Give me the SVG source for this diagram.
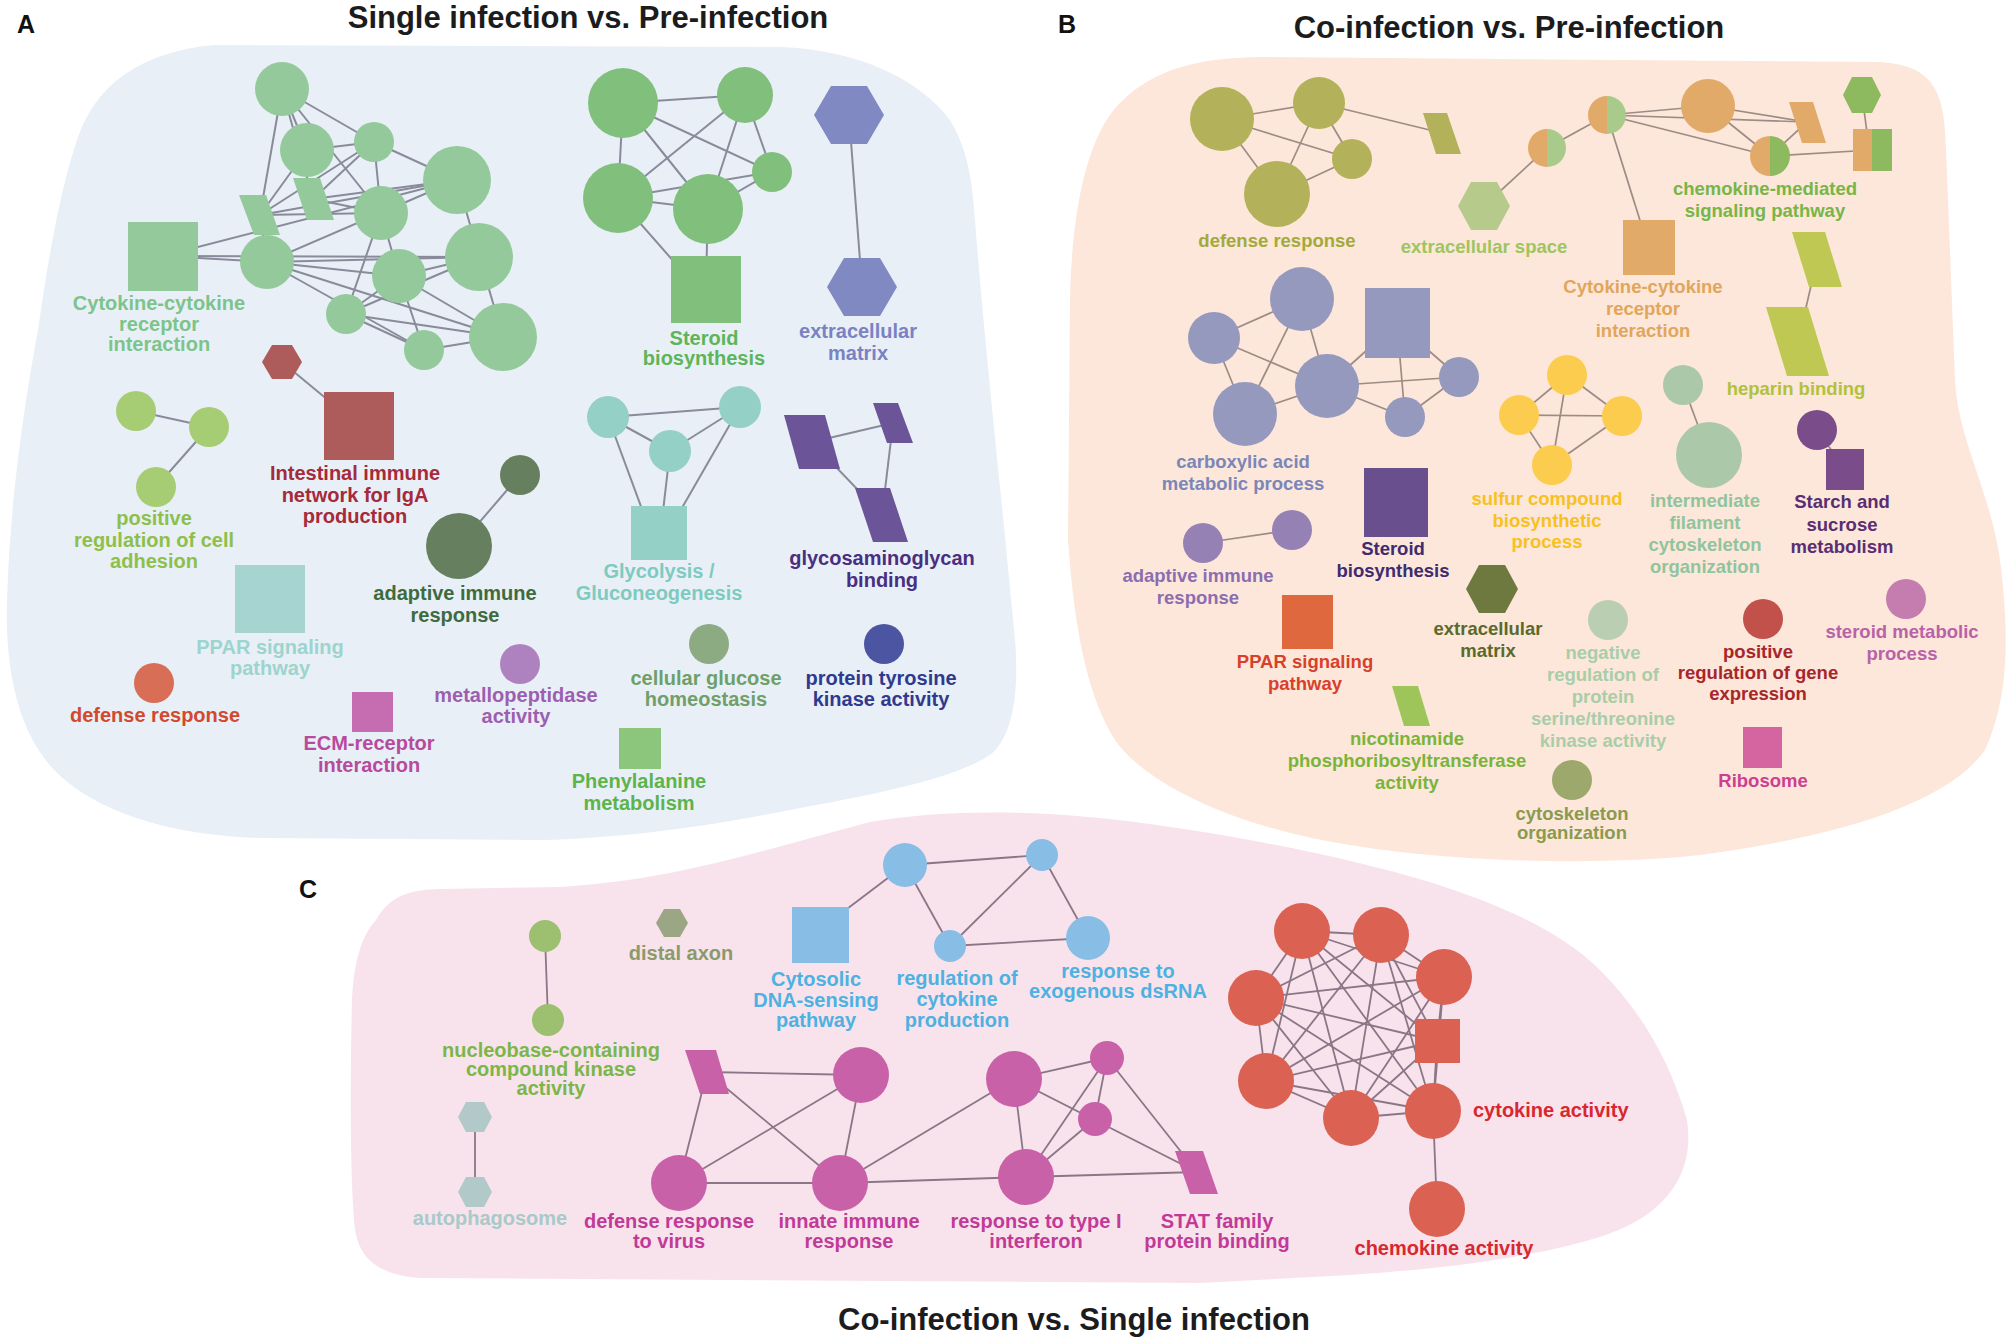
<svg xmlns="http://www.w3.org/2000/svg" width="2008" height="1337" viewBox="0 0 2008 1337">
<style>
text{font-family:"Liberation Sans",Arial,Helvetica,sans-serif;font-weight:bold;text-anchor:middle}
.title{font-size:31px;fill:#1c1c1c}
.plab{font-size:25px;fill:#111;text-anchor:start}
.lA,.lC{font-size:20px}
.lB{font-size:18.5px}
.eA line{stroke:#898b9a;stroke-width:2}
.eB line{stroke:#9d8c85;stroke-width:1.7}
.eC line{stroke:#8a7686;stroke-width:1.8}
.bgA{fill:#e9eff7}.bgB{fill:#fce7da}.bgC{fill:#f8e3ec}
.fA1{fill:#93c99b}.tA1{fill:#7cc48a}
.fA2{fill:#ae5b5b}.tA2{fill:#a52a3a}
.fA3{fill:#a6cd74}.tA3{fill:#8dc04a}
.fA4{fill:#657f5f}.tA4{fill:#3e6b3e}
.fA5{fill:#a6d4d1}.tA5{fill:#9cd4ce}
.fA6{fill:#d76e55}.tA6{fill:#d2492e}
.fA7{fill:#c66db1}.tA7{fill:#b84a9e}
.fA8{fill:#ae82bf}.tA8{fill:#9c5fb0}
.fA9{fill:#80bf7c}.tA9{fill:#5db55a}
.fA10{fill:#8189c3}.tA10{fill:#7a82c2}
.fA11{fill:#94d0c6}.tA11{fill:#7dcbc0}
.fA12{fill:#6c5499}.tA12{fill:#4a2e80}
.fA13{fill:#8dab83}.tA13{fill:#6fa068}
.fA14{fill:#4b55a1}.tA14{fill:#2f3a8f}
.fA15{fill:#8cc67c}.tA15{fill:#5db44a}
.fB1{fill:#b3b159}.tB1{fill:#a2aa3a}
.fB2{fill:#b6ca8c}.tB2{fill:#9dc560}
.fB3{fill:#e2aa68}.tB3{fill:#e1a65a}
.fB4{fill:#a8cb8b}
.fB5{fill:#8dba5e}.tB5{fill:#78b547}
.fB6{fill:#bec852}.tB6{fill:#b0c23a}
.fB7{fill:#9599be}.tB7{fill:#7b86b8}
.fB8{fill:#fccc4f}.tB8{fill:#f6c121}
.fB9{fill:#abc9a9}.tB9{fill:#90c49c}
.fB10{fill:#7a4c8a}.tB10{fill:#5a2e72}
.fB11{fill:#9681b5}.tB11{fill:#8b6db0}
.fB12{fill:#6a4f8e}.tB12{fill:#3f2b6f}
.fB13{fill:#e0683f}.tB13{fill:#d8402a}
.fB14{fill:#6d793e}.tB14{fill:#5b6a2b}
.fB15{fill:#9dc55a}.tB15{fill:#7ab43a}
.fB16{fill:#bacfb1}.tB16{fill:#a9cda9}
.fB17{fill:#9ca86c}.tB17{fill:#8a9a4e}
.fB18{fill:#c1514a}.tB18{fill:#a8262a}
.fB19{fill:#c57caf}.tB19{fill:#b962a8}
.fB20{fill:#d565a0}.tB20{fill:#cd4090}
.fC1{fill:#9cbf70}.tC1{fill:#7bb649}
.fC2{fill:#9ba684}.tC2{fill:#8a9a6a}
.fC3{fill:#88bee6}.tC3{fill:#4db1e1}
.fC4{fill:#b2c9c9}.tC4{fill:#a9c9c9}
.fC5{fill:#c961a8}.tC5{fill:#c23a98}
.fC6{fill:#db6152}.tC6{fill:#d8282f}
</style>

<g id="backgrounds">
<path class="bgA" d="M77,140 C95,85 140,52 214,45 L780,47 C860,50 920,80 950,120 C968,150 972,180 975,220 C985,350 1000,480 1015,640 C1020,700 1010,740 990,755 C960,775 900,790 800,808 C700,828 620,838 540,840 L260,838 C150,835 70,800 40,752 C15,715 5,660 7,600 C10,500 25,400 38,330 C48,260 60,190 77,140 Z"/>
<path class="bgB" d="M1123,100 C1155,70 1195,58 1260,57 L1880,62 C1930,66 1945,85 1946,150 L1955,380 C1958,440 1990,490 2000,560 C2010,640 2008,700 1985,750 C1950,800 1850,835 1700,855 C1600,866 1450,862 1350,845 C1250,830 1150,790 1115,740 C1090,700 1075,640 1068,540 L1070,300 C1072,200 1090,130 1123,100 Z"/>
<path class="bgC" d="M376,920 C390,895 410,890 440,889 L560,887 C680,880 780,845 870,822 C950,808 1050,810 1150,824 C1250,838 1350,858 1433,883 C1500,905 1560,930 1600,970 C1640,1010 1670,1060 1687,1120 C1695,1170 1670,1215 1600,1237 C1530,1258 1450,1268 1350,1275 L1200,1283 L420,1278 C380,1275 360,1260 355,1230 C350,1180 350,1080 352,1000 C354,960 362,935 376,920 Z"/>
</g>

<g id="titles">
<text class="plab" x="17" y="33">A</text>
<text class="title" x="588" y="28">Single infection vs. Pre-infection</text>
<text class="plab" x="1058" y="33">B</text>
<text class="title" x="1509" y="38">Co-infection vs. Pre-infection</text>
<text class="plab" x="299" y="898">C</text>
<text class="title" x="1074" y="1330">Co-infection vs. Single infection</text>
</g>

<g id="connectors">
<g class="eA">
<line x1="282" y1="89" x2="374" y2="142"/>
<line x1="282" y1="89" x2="260" y2="215"/>
<line x1="282" y1="89" x2="313" y2="199"/>
<line x1="282" y1="89" x2="381" y2="213"/>
<line x1="282" y1="89" x2="307" y2="150"/>
<line x1="307" y1="150" x2="374" y2="142"/>
<line x1="260" y1="215" x2="374" y2="142"/>
<line x1="260" y1="215" x2="381" y2="213"/>
<line x1="260" y1="215" x2="457" y2="180"/>
<line x1="260" y1="215" x2="307" y2="150"/>
<line x1="313" y1="199" x2="374" y2="142"/>
<line x1="313" y1="199" x2="381" y2="213"/>
<line x1="313" y1="199" x2="457" y2="180"/>
<line x1="163" y1="256" x2="457" y2="180"/>
<line x1="163" y1="256" x2="479" y2="257"/>
<line x1="163" y1="256" x2="267" y2="262"/>
<line x1="267" y1="262" x2="457" y2="180"/>
<line x1="267" y1="262" x2="479" y2="257"/>
<line x1="267" y1="262" x2="399" y2="276"/>
<line x1="267" y1="262" x2="503" y2="337"/>
<line x1="267" y1="262" x2="424" y2="350"/>
<line x1="267" y1="262" x2="260" y2="215"/>
<line x1="374" y1="142" x2="381" y2="213"/>
<line x1="374" y1="142" x2="457" y2="180"/>
<line x1="381" y1="213" x2="346" y2="314"/>
<line x1="381" y1="213" x2="399" y2="276"/>
<line x1="457" y1="180" x2="503" y2="337"/>
<line x1="399" y1="276" x2="479" y2="257"/>
<line x1="346" y1="314" x2="399" y2="276"/>
<line x1="346" y1="314" x2="479" y2="257"/>
<line x1="346" y1="314" x2="503" y2="337"/>
<line x1="346" y1="314" x2="424" y2="350"/>
<line x1="424" y1="350" x2="503" y2="337"/>
<line x1="399" y1="276" x2="503" y2="337"/>
<line x1="399" y1="276" x2="424" y2="350"/>
<line x1="623" y1="103" x2="745" y2="95"/>
<line x1="623" y1="103" x2="618" y2="198"/>
<line x1="623" y1="103" x2="708" y2="209"/>
<line x1="623" y1="103" x2="772" y2="172"/>
<line x1="618" y1="198" x2="745" y2="95"/>
<line x1="708" y1="209" x2="745" y2="95"/>
<line x1="772" y1="172" x2="745" y2="95"/>
<line x1="618" y1="198" x2="772" y2="172"/>
<line x1="618" y1="198" x2="708" y2="209"/>
<line x1="708" y1="209" x2="772" y2="172"/>
<line x1="618" y1="198" x2="690" y2="280"/>
<line x1="708" y1="209" x2="706" y2="280"/>
<line x1="849" y1="115" x2="862" y2="287"/>
<line x1="282" y1="362" x2="340" y2="410"/>
<line x1="136" y1="411" x2="209" y2="427"/>
<line x1="209" y1="427" x2="156" y2="487"/>
<line x1="520" y1="475" x2="459" y2="546"/>
<line x1="608" y1="417" x2="740" y2="407"/>
<line x1="608" y1="417" x2="670" y2="451"/>
<line x1="670" y1="451" x2="740" y2="407"/>
<line x1="608" y1="417" x2="646" y2="520"/>
<line x1="670" y1="451" x2="662" y2="520"/>
<line x1="740" y1="407" x2="675" y2="520"/>
<line x1="812" y1="442" x2="893" y2="423"/>
<line x1="812" y1="442" x2="882" y2="515"/>
<line x1="893" y1="423" x2="882" y2="515"/>
</g>
<g class="eB">
<line x1="1222" y1="119" x2="1319" y2="103"/>
<line x1="1222" y1="119" x2="1352" y2="159"/>
<line x1="1222" y1="119" x2="1277" y2="194"/>
<line x1="1319" y1="103" x2="1277" y2="194"/>
<line x1="1319" y1="103" x2="1352" y2="159"/>
<line x1="1277" y1="194" x2="1352" y2="159"/>
<line x1="1319" y1="103" x2="1442" y2="133"/>
<line x1="1484" y1="206" x2="1547" y2="148"/>
<line x1="1547" y1="148" x2="1607" y2="115"/>
<line x1="1607" y1="115" x2="1708" y2="106"/>
<line x1="1607" y1="115" x2="1807" y2="122"/>
<line x1="1607" y1="115" x2="1770" y2="156"/>
<line x1="1708" y1="106" x2="1770" y2="156"/>
<line x1="1708" y1="106" x2="1807" y2="122"/>
<line x1="1770" y1="156" x2="1807" y2="122"/>
<line x1="1770" y1="156" x2="1872" y2="150"/>
<line x1="1862" y1="95" x2="1868" y2="140"/>
<line x1="1607" y1="115" x2="1643" y2="230"/>
<line x1="1817" y1="260" x2="1798" y2="342"/>
<line x1="1214" y1="338" x2="1302" y2="299"/>
<line x1="1214" y1="338" x2="1327" y2="386"/>
<line x1="1214" y1="338" x2="1245" y2="414"/>
<line x1="1302" y1="299" x2="1327" y2="386"/>
<line x1="1302" y1="299" x2="1245" y2="414"/>
<line x1="1245" y1="414" x2="1327" y2="386"/>
<line x1="1327" y1="386" x2="1459" y2="377"/>
<line x1="1327" y1="386" x2="1405" y2="417"/>
<line x1="1327" y1="386" x2="1397" y2="323"/>
<line x1="1397" y1="323" x2="1405" y2="417"/>
<line x1="1397" y1="323" x2="1459" y2="377"/>
<line x1="1405" y1="417" x2="1459" y2="377"/>
<line x1="1567" y1="375" x2="1519" y2="415"/>
<line x1="1567" y1="375" x2="1622" y2="416"/>
<line x1="1567" y1="375" x2="1552" y2="465"/>
<line x1="1519" y1="415" x2="1622" y2="416"/>
<line x1="1519" y1="415" x2="1552" y2="465"/>
<line x1="1622" y1="416" x2="1552" y2="465"/>
<line x1="1683" y1="385" x2="1709" y2="455"/>
<line x1="1817" y1="430" x2="1845" y2="469"/>
<line x1="1203" y1="543" x2="1292" y2="530"/>
</g>
<g class="eC">
<line x1="545" y1="936" x2="548" y2="1020"/>
<line x1="475" y1="1117" x2="475" y2="1192"/>
<line x1="905" y1="865" x2="1042" y2="855"/>
<line x1="905" y1="865" x2="950" y2="946"/>
<line x1="950" y1="946" x2="1042" y2="855"/>
<line x1="1042" y1="855" x2="1088" y2="938"/>
<line x1="950" y1="946" x2="1088" y2="938"/>
<line x1="905" y1="865" x2="835" y2="918"/>
<line x1="707" y1="1072" x2="861" y2="1075"/>
<line x1="707" y1="1072" x2="840" y2="1183"/>
<line x1="707" y1="1072" x2="679" y2="1183"/>
<line x1="679" y1="1183" x2="840" y2="1183"/>
<line x1="679" y1="1183" x2="861" y2="1075"/>
<line x1="861" y1="1075" x2="840" y2="1183"/>
<line x1="840" y1="1183" x2="1026" y2="1177"/>
<line x1="840" y1="1183" x2="1014" y2="1079"/>
<line x1="1014" y1="1079" x2="1107" y2="1058"/>
<line x1="1014" y1="1079" x2="1026" y2="1177"/>
<line x1="1014" y1="1079" x2="1197" y2="1172"/>
<line x1="1107" y1="1058" x2="1095" y2="1119"/>
<line x1="1107" y1="1058" x2="1026" y2="1177"/>
<line x1="1107" y1="1058" x2="1197" y2="1172"/>
<line x1="1095" y1="1119" x2="1026" y2="1177"/>
<line x1="1026" y1="1177" x2="1197" y2="1172"/>
<line x1="1302" y1="931" x2="1381" y2="935"/>
<line x1="1302" y1="931" x2="1444" y2="977"/>
<line x1="1302" y1="931" x2="1256" y2="998"/>
<line x1="1302" y1="931" x2="1266" y2="1081"/>
<line x1="1302" y1="931" x2="1351" y2="1118"/>
<line x1="1302" y1="931" x2="1433" y2="1111"/>
<line x1="1302" y1="931" x2="1437" y2="1041"/>
<line x1="1381" y1="935" x2="1444" y2="977"/>
<line x1="1381" y1="935" x2="1256" y2="998"/>
<line x1="1381" y1="935" x2="1266" y2="1081"/>
<line x1="1381" y1="935" x2="1351" y2="1118"/>
<line x1="1381" y1="935" x2="1433" y2="1111"/>
<line x1="1381" y1="935" x2="1437" y2="1041"/>
<line x1="1444" y1="977" x2="1256" y2="998"/>
<line x1="1444" y1="977" x2="1266" y2="1081"/>
<line x1="1444" y1="977" x2="1351" y2="1118"/>
<line x1="1444" y1="977" x2="1433" y2="1111"/>
<line x1="1444" y1="977" x2="1437" y2="1041"/>
<line x1="1256" y1="998" x2="1266" y2="1081"/>
<line x1="1256" y1="998" x2="1351" y2="1118"/>
<line x1="1256" y1="998" x2="1433" y2="1111"/>
<line x1="1256" y1="998" x2="1437" y2="1041"/>
<line x1="1266" y1="1081" x2="1351" y2="1118"/>
<line x1="1266" y1="1081" x2="1433" y2="1111"/>
<line x1="1266" y1="1081" x2="1437" y2="1041"/>
<line x1="1351" y1="1118" x2="1433" y2="1111"/>
<line x1="1351" y1="1118" x2="1437" y2="1041"/>
<line x1="1433" y1="1111" x2="1437" y2="1041"/>
<line x1="1433" y1="1111" x2="1437" y2="1209"/>
</g>
</g>

<!-- Panel A nodes -->
<g id="A-cytokine" class="fA1">
<circle cx="282" cy="89" r="27"/><circle cx="307" cy="150" r="27"/><circle cx="374" cy="142" r="20"/>
<circle cx="457" cy="180" r="34"/><circle cx="381" cy="213" r="27"/><circle cx="267" cy="262" r="27"/>
<circle cx="479" cy="257" r="34"/><circle cx="399" cy="276" r="27"/><circle cx="346" cy="314" r="20"/>
<circle cx="424" cy="350" r="20"/><circle cx="503" cy="337" r="34"/>
<polygon points="239,195 266,195 280,235 254,235"/><polygon points="293,178 320,178 334,220 307,220"/>
<rect x="128" y="222" width="70" height="69"/>
<text class="lA tA1" x="159" y="310">Cytokine-cytokine<tspan x="159" dy="20.5">receptor</tspan><tspan x="159" dy="20.5">interaction</tspan></text>
</g>
<g id="A-intestinal" class="fA2">
<polygon points="262,362 272,345 292,345 302,362 292,379 272,379"/>
<rect x="324" y="392" width="70" height="68"/>
<text class="lA tA2" x="355" y="480">Intestinal immune<tspan x="355" dy="21.5">network for IgA</tspan><tspan x="355" dy="21.5">production</tspan></text>
</g>
<g id="A-adhesion" class="fA3">
<circle cx="136" cy="411" r="20"/><circle cx="209" cy="427" r="20"/><circle cx="156" cy="487" r="20"/>
<text class="lA tA3" x="154" y="525">positive<tspan x="154" dy="21.5">regulation of cell</tspan><tspan x="154" dy="21.5">adhesion</tspan></text>
</g>
<g id="A-adaptive" class="fA4">
<circle cx="520" cy="475" r="20"/><circle cx="459" cy="546" r="33"/>
<text class="lA tA4" x="455" y="600">adaptive immune<tspan x="455" dy="22">response</tspan></text>
</g>
<g id="A-ppar" class="fA5">
<rect x="235" y="565" width="70" height="68"/>
<text class="lA tA5" x="270" y="654">PPAR signaling<tspan x="270" dy="21">pathway</tspan></text>
</g>
<g id="A-defense" class="fA6">
<circle cx="154" cy="683" r="20"/>
<text class="lA tA6" x="155" y="722">defense response</text>
</g>
<g id="A-ecm" class="fA7">
<rect x="352" y="692" width="41" height="40"/>
<text class="lA tA7" x="369" y="750">ECM-receptor<tspan x="369" dy="22">interaction</tspan></text>
</g>
<g id="A-metallo" class="fA8">
<circle cx="520" cy="664" r="20"/>
<text class="lA tA8" x="516" y="702">metallopeptidase<tspan x="516" dy="21">activity</tspan></text>
</g>
<g id="A-steroid" class="fA9">
<circle cx="623" cy="103" r="35"/><circle cx="745" cy="95" r="28"/><circle cx="618" cy="198" r="35"/>
<circle cx="708" cy="209" r="35"/><circle cx="772" cy="172" r="20"/>
<rect x="671" y="256" width="70" height="67"/>
<text class="lA tA9" x="704" y="345">Steroid<tspan x="704" dy="20">biosynthesis</tspan></text>
</g>
<g id="A-ecmatrix" class="fA10">
<polygon points="814,115 831,86 867,86 884,115 867,144 831,144"/>
<polygon points="827,287 844,258 880,258 897,287 880,316 844,316"/>
<text class="lA tA10" x="858" y="338">extracellular<tspan x="858" dy="22">matrix</tspan></text>
</g>
<g id="A-glycolysis" class="fA11">
<circle cx="608" cy="417" r="21"/><circle cx="740" cy="407" r="21"/><circle cx="670" cy="451" r="21"/>
<rect x="631" y="506" width="56" height="54"/>
<text class="lA tA11" x="659" y="578">Glycolysis /<tspan x="659" dy="22">Gluconeogenesis</tspan></text>
</g>
<g id="A-gag" class="fA12">
<polygon points="784,415 825,415 840,469 799,469"/>
<polygon points="873,403 898,403 913,443 887,443"/>
<polygon points="855,488 890,488 908,542 873,542"/>
<text class="lA tA12" x="882" y="565">glycosaminoglycan<tspan x="882" dy="22">binding</tspan></text>
</g>
<g id="A-glucose" class="fA13">
<circle cx="709" cy="644" r="20"/>
<text class="lA tA13" x="706" y="685">cellular glucose<tspan x="706" dy="21">homeostasis</tspan></text>
</g>
<g id="A-tyrosine" class="fA14">
<circle cx="884" cy="644" r="20"/>
<text class="lA tA14" x="881" y="685">protein tyrosine<tspan x="881" dy="21">kinase activity</tspan></text>
</g>
<g id="A-phenyl" class="fA15">
<rect x="619" y="728" width="42" height="41"/>
<text class="lA tA15" x="639" y="788">Phenylalanine<tspan x="639" dy="22">metabolism</tspan></text>
</g>

<!-- Panel B nodes -->
<g id="B-defense" class="fB1">
<circle cx="1222" cy="119" r="32"/><circle cx="1319" cy="103" r="26"/><circle cx="1352" cy="159" r="20"/><circle cx="1277" cy="194" r="33"/>
<polygon points="1423,113 1447,113 1461,154 1436,154"/>
<text class="lB tB1" x="1277" y="247">defense response</text>
</g>
<g id="B-exspace" class="fB2">
<polygon points="1458,206 1471,182 1497,182 1510,206 1497,230 1471,230"/>
<text class="lB tB2" x="1484" y="253">extracellular space</text>
</g>
<g id="B-chemokine">
<path class="fB3" d="M1547,129 A19,19 0 0,0 1547,167 Z"/><path class="fB4" d="M1547,129 A19,19 0 0,1 1547,167 Z"/>
<path class="fB3" d="M1607,96 A19,19 0 0,0 1607,134 Z"/><path class="fB4" d="M1607,96 A19,19 0 0,1 1607,134 Z"/>
<circle class="fB3" cx="1708" cy="106" r="27"/>
<path class="fB3" d="M1770,136 A20,20 0 0,0 1770,176 Z"/><path class="fB5" d="M1770,136 A20,20 0 0,1 1770,176 Z"/>
<polygon class="fB3" points="1789,102 1813,102 1826,143 1802,143"/>
<polygon class="fB5" points="1843,95 1852,77 1872,77 1881,95 1872,113 1852,113"/>
<rect class="fB3" x="1853" y="129" width="20" height="42"/><rect class="fB5" x="1872" y="129" width="20" height="42"/>
<text class="lB tB5" x="1765" y="195">chemokine-mediated<tspan x="1765" dy="22">signaling pathway</tspan></text>
</g>
<g id="B-cytokine" class="fB3">
<rect x="1623" y="220" width="52" height="55"/>
<text class="lB tB3" x="1643" y="293">Cytokine-cytokine<tspan x="1643" dy="22">receptor</tspan><tspan x="1643" dy="22">interaction</tspan></text>
</g>
<g id="B-heparin" class="fB6">
<polygon points="1792,232 1825,232 1842,287 1809,287"/>
<polygon points="1766,307 1808,307 1829,376 1787,376"/>
<text class="lB tB6" x="1796" y="395">heparin binding</text>
</g>
<g id="B-carboxylic" class="fB7">
<circle cx="1214" cy="338" r="26"/><circle cx="1302" cy="299" r="32"/><circle cx="1327" cy="386" r="32"/>
<circle cx="1245" cy="414" r="32"/><circle cx="1405" cy="417" r="20"/><circle cx="1459" cy="377" r="20"/>
<rect x="1365" y="288" width="65" height="70"/>
<text class="lB tB7" x="1243" y="468">carboxylic acid<tspan x="1243" dy="22">metabolic process</tspan></text>
</g>
<g id="B-sulfur" class="fB8">
<circle cx="1567" cy="375" r="20"/><circle cx="1519" cy="415" r="20"/><circle cx="1622" cy="416" r="20"/><circle cx="1552" cy="465" r="20"/>
<text class="lB tB8" x="1547" y="505">sulfur compound<tspan x="1547" dy="21.5">biosynthetic</tspan><tspan x="1547" dy="21.5">process</tspan></text>
</g>
<g id="B-filament" class="fB9">
<circle cx="1683" cy="385" r="20"/><circle cx="1709" cy="455" r="33"/>
<text class="lB tB9" x="1705" y="507">intermediate<tspan x="1705" dy="22">filament</tspan><tspan x="1705" dy="22">cytoskeleton</tspan><tspan x="1705" dy="22">organization</tspan></text>
</g>
<g id="B-starch" class="fB10">
<circle cx="1817" cy="430" r="20"/><rect x="1826" y="449" width="38" height="41"/>
<text class="lB tB10" x="1842" y="508">Starch and<tspan x="1842" dy="22.5">sucrose</tspan><tspan x="1842" dy="22.5">metabolism</tspan></text>
</g>
<g id="B-adaptive" class="fB11">
<circle cx="1203" cy="543" r="20"/><circle cx="1292" cy="530" r="20"/>
<text class="lB tB11" x="1198" y="582">adaptive immune<tspan x="1198" dy="22">response</tspan></text>
</g>
<g id="B-steroid" class="fB12">
<rect x="1364" y="468" width="64" height="69"/>
<text class="lB tB12" x="1393" y="555">Steroid<tspan x="1393" dy="22">biosynthesis</tspan></text>
</g>
<g id="B-ppar" class="fB13">
<rect x="1282" y="595" width="51" height="54"/>
<text class="lB tB13" x="1305" y="668">PPAR signaling<tspan x="1305" dy="22">pathway</tspan></text>
</g>
<g id="B-exmatrix" class="fB14">
<polygon points="1466,589 1479,565 1505,565 1518,589 1505,613 1479,613"/>
<text class="lB tB14" x="1488" y="635">extracellular<tspan x="1488" dy="22">matrix</tspan></text>
</g>
<g id="B-nicotinamide" class="fB15">
<polygon points="1392,686 1418,686 1430,726 1404,726"/>
<text class="lB tB15" x="1407" y="745">nicotinamide<tspan x="1407" dy="22">phosphoribosyltransferase</tspan><tspan x="1407" dy="22">activity</tspan></text>
</g>
<g id="B-negative" class="fB16">
<circle cx="1608" cy="620" r="20"/>
<text class="lB tB16" x="1603" y="659">negative<tspan x="1603" dy="22">regulation of</tspan><tspan x="1603" dy="22">protein</tspan><tspan x="1603" dy="22">serine/threonine</tspan><tspan x="1603" dy="22">kinase activity</tspan></text>
</g>
<g id="B-cytoskeleton" class="fB17">
<circle cx="1572" cy="780" r="20"/>
<text class="lB tB17" x="1572" y="820">cytoskeleton<tspan x="1572" dy="18.5">organization</tspan></text>
</g>
<g id="B-positive" class="fB18">
<circle cx="1763" cy="619" r="20"/>
<text class="lB tB18" x="1758" y="658">positive<tspan x="1758" dy="21">regulation of gene</tspan><tspan x="1758" dy="21">expression</tspan></text>
</g>
<g id="B-steroidmet" class="fB19">
<circle cx="1906" cy="599" r="20"/>
<text class="lB tB19" x="1902" y="638">steroid metabolic<tspan x="1902" dy="22">process</tspan></text>
</g>
<g id="B-ribosome" class="fB20">
<rect x="1743" y="727" width="39" height="41"/>
<text class="lB tB20" x="1763" y="787">Ribosome</text>
</g>

<!-- Panel C nodes -->
<g id="C-nucleobase" class="fC1">
<circle cx="545" cy="936" r="16"/><circle cx="548" cy="1020" r="16"/>
<text class="lC tC1" x="551" y="1057">nucleobase-containing<tspan x="551" dy="19">compound kinase</tspan><tspan x="551" dy="19">activity</tspan></text>
</g>
<g id="C-distal" class="fC2">
<polygon points="656,923 664,909 680,909 688,923 680,937 664,937"/>
<text class="lC tC2" x="681" y="960">distal axon</text>
</g>
<g id="C-cytosolic" class="fC3">
<rect x="792" y="907" width="57" height="56"/>
<circle cx="905" cy="865" r="22"/><circle cx="1042" cy="855" r="16"/><circle cx="950" cy="946" r="16"/><circle cx="1088" cy="938" r="22"/>
<text class="lC tC3" x="816" y="986">Cytosolic<tspan x="816" dy="20.5">DNA-sensing</tspan><tspan x="816" dy="20.5">pathway</tspan></text>
<text class="lC tC3" x="957" y="985">regulation of<tspan x="957" dy="21">cytokine</tspan><tspan x="957" dy="21">production</tspan></text>
<text class="lC tC3" x="1118" y="978">response to<tspan x="1118" dy="20">exogenous dsRNA</tspan></text>
</g>
<g id="C-autophagosome" class="fC4">
<polygon points="458,1117 466,1102 484,1102 492,1117 484,1132 466,1132"/>
<polygon points="458,1192 466,1177 484,1177 492,1192 484,1207 466,1207"/>
<text class="lC tC4" x="490" y="1225">autophagosome</text>
</g>
<g id="C-virus" class="fC5">
<polygon points="685,1050 716,1050 729,1094 700,1094"/>
<circle cx="679" cy="1183" r="28"/><circle cx="840" cy="1183" r="28"/><circle cx="861" cy="1075" r="28"/>
<circle cx="1014" cy="1079" r="28"/><circle cx="1107" cy="1058" r="17"/><circle cx="1095" cy="1119" r="17"/><circle cx="1026" cy="1177" r="28"/>
<polygon points="1175,1151 1203,1151 1218,1194 1190,1194"/>
<text class="lC tC5" x="669" y="1228">defense response<tspan x="669" dy="20">to virus</tspan></text>
<text class="lC tC5" x="849" y="1228">innate immune<tspan x="849" dy="20">response</tspan></text>
<text class="lC tC5" x="1036" y="1228">response to type I<tspan x="1036" dy="20">interferon</tspan></text>
<text class="lC tC5" x="1217" y="1228">STAT family<tspan x="1217" dy="20">protein binding</tspan></text>
</g>
<g id="C-cytokine" class="fC6">
<circle cx="1302" cy="931" r="28"/><circle cx="1381" cy="935" r="28"/><circle cx="1444" cy="977" r="28"/>
<circle cx="1256" cy="998" r="28"/><circle cx="1266" cy="1081" r="28"/><circle cx="1351" cy="1118" r="28"/>
<circle cx="1433" cy="1111" r="28"/><rect x="1415" y="1019" width="45" height="44"/>
<circle cx="1437" cy="1209" r="28"/>
<text class="lC tC6" x="1473" y="1117" style="text-anchor:start">cytokine activity</text>
<text class="lC tC6" x="1444" y="1255">chemokine activity</text>
</g>
</svg>
